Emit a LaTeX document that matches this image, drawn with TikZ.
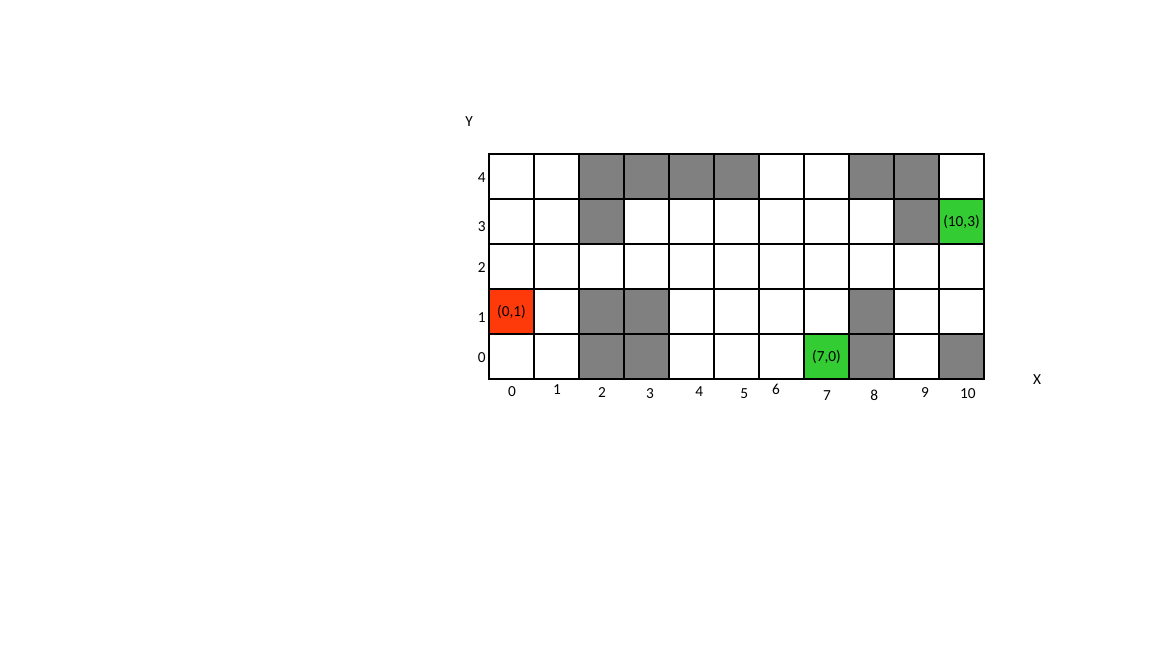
\documentclass[tikz,border=0pt]{standalone}
\usepackage{fontspec}
\setmainfont{Carlito}
\usetikzlibrary{positioning}
\definecolor{wallgray}{RGB}{128,128,128}
\definecolor{startred}{RGB}{255,58,10}
\definecolor{goalgreen}{RGB}{51,204,51}
\newcommand{\gridfont}{\fontsize{11.5}{13}\selectfont}

\begin{document}
\begin{tikzpicture}[x=33.75pt, y=33.75pt]
\tikzset{
  cell/.style={draw=black, line width=1.5pt, fill=white, minimum size=33.75pt, inner sep=0pt, font=\gridfont},
  wall/.style={cell, fill=wallgray},
  start/.style={cell, fill=startred},
  goal/.style={cell, fill=goalgreen},
  tick/.style={inner sep=0pt, font=\gridfont}
}
\useasboundingbox (-10.867,-5.978) rectangle (14.733,8.422);

% empty grid
\foreach \x in {0,...,10}
  \foreach \y in {0,...,4}
    \node[cell] (c-\x-\y) at (\x+0.5,\y+0.5) {};

% blocked cells
\foreach \x/\y in {2/4,3/4,4/4,5/4,8/4,9/4,2/3,9/3,2/1,3/1,8/1,2/0,3/0,8/0,10/0}
  \node[wall] (w-\x-\y) at (c-\x-\y) {};

% start and goals
\node[start] (start) at (c-0-1) {(0,1)};
\node[goal] (goal-a) at (c-7-0) {(7,0)};
\node[goal] (goal-b) at (c-10-3) {(10,3)};

% axes
\node[tick] (ylab) at (-0.44,5.71) {Y};
\node[tick] (xlab) at (12.18,-0.02) {X};
\foreach \y/\yy in {4/4.47,3/3.38,2/2.47,1/1.36,0/0.47}
  \node[tick] (row-\y) at (-0.16,\yy) {\y};
\foreach \x/\xx/\yy in {0/0.51/-0.29,1/1.51/-0.24,2/2.51/-0.29,3/3.58/-0.33,4/4.67/-0.29,5/5.67/-0.33,6/6.38/-0.22,7/7.51/-0.36,8/8.56/-0.36,9/9.69/-0.29,10/10.64/-0.33}
  \node[tick] (col-\x) at (\xx,\yy) {\x};
\end{tikzpicture}
\end{document}
